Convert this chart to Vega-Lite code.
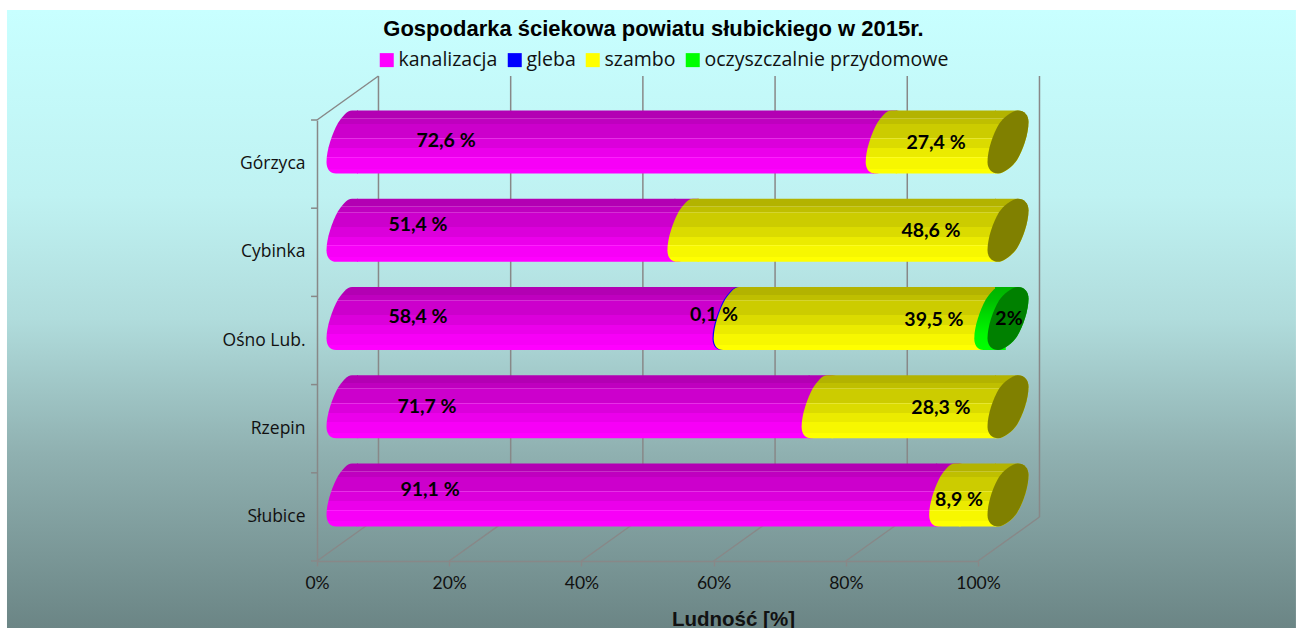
{
"$schema":"https://vega.github.io/schema/vega-lite/v6.json",
"width":661,"height":441,
"autosize":{"type":"none"},
"padding":{"left":317,"top":120,"right":318,"bottom":67},
"background":"white",
"config":{"view":{"stroke":null},"font":"Lato"},
"title":{"text":"Gospodarka ściekowa powiatu słubickiego w 2015r.","font":"Liberation Sans","fontSize":22,"fontWeight":"bold","color":"#000000","anchor":"middle","offset":-31,"dx":6},
"datasets":{
"segs":[
{"gmina":"Górzyca","seg":"kanalizacja","start":0,"end":81.5},
{"gmina":"Górzyca","seg":"szambo","start":81.5,"end":100},
{"gmina":"Cybinka","seg":"kanalizacja","start":0,"end":51.5},
{"gmina":"Cybinka","seg":"szambo","start":51.5,"end":100},
{"gmina":"Ośno Lub.","seg":"kanalizacja","start":0,"end":58.4},
{"gmina":"Ośno Lub.","seg":"gleba","start":58.4,"end":58.5},
{"gmina":"Ośno Lub.","seg":"szambo","start":58.5,"end":98},
{"gmina":"Ośno Lub.","seg":"oczyszczalnie przydomowe","start":98,"end":100},
{"gmina":"Rzepin","seg":"kanalizacja","start":0,"end":71.8},
{"gmina":"Rzepin","seg":"szambo","start":71.8,"end":100},
{"gmina":"Słubice","seg":"kanalizacja","start":0,"end":91.1},
{"gmina":"Słubice","seg":"szambo","start":91.1,"end":100}
],
"frame":[
{"x":9.3,"x2":9.3,"h":44,"h2":485},{"x":29.3,"x2":29.3,"h":44,"h2":485},{"x":49.3,"x2":49.3,"h":44,"h2":485},{"x":69.3,"x2":69.3,"h":44,"h2":485},{"x":89.3,"x2":89.3,"h":44,"h2":485},{"x":109.3,"x2":109.3,"h":44,"h2":485},
{"x":0,"x2":9.3,"h":0,"h2":44},{"x":20,"x2":29.3,"h":0,"h2":44},{"x":40,"x2":49.3,"h":0,"h2":44},{"x":60,"x2":69.3,"h":0,"h2":44},{"x":80,"x2":89.3,"h":0,"h2":44},{"x":100,"x2":109.3,"h":0,"h2":44},
{"x":0,"x2":9.3,"h":441,"h2":485},
{"x":-0.9,"x2":0,"h":0,"h2":0},{"x":-0.9,"x2":0,"h":88.2,"h2":88.2},{"x":-0.9,"x2":0,"h":176.4,"h2":176.4},{"x":-0.9,"x2":0,"h":264.6,"h2":264.6},{"x":-0.9,"x2":0,"h":352.8,"h2":352.8},{"x":-0.9,"x2":0,"h":441,"h2":441}
],
"labels":[
{"t":"72,6 %","x":19.52,"h":420},{"t":"27,4 %","x":93.65,"h":418},
{"t":"51,4 %","x":15.28,"h":336},{"t":"48,6 %","x":92.89,"h":330},
{"t":"58,4 %","x":15.28,"h":244},{"t":"0,1 %","x":60.06,"h":246},{"t":"39,5 %","x":93.34,"h":241},{"t":"2%","x":104.69,"h":242},
{"t":"71,7 %","x":16.64,"h":154},{"t":"28,3 %","x":94.4,"h":153},
{"t":"91,1 %","x":17.1,"h":71},{"t":"8,9 %","x":97.13,"h":61}
],
"bg":[{"x":-46.9,"x2":148.1,"h":-67,"h2":551}]
},
"resolve":{"scale":{"y":"independent"}},
"layer":[
{"layer":[
{"data":{"name":"bg"},
 "mark":{"type":"rect","fill":{"gradient":"linear","x1":0,"y1":0,"x2":0,"y2":1,"stops":[{"offset":0,"color":"#c8ffff"},{"offset":0.3,"color":"#bff2f2"},{"offset":0.5,"color":"#b0dcdc"},{"offset":0.72,"color":"#8fb0b0"},{"offset":1,"color":"#6b8585"}]}},
 "encoding":{
  "x":{"field":"x","type":"quantitative","scale":{"domain":[0,100],"nice":false,"zero":false},
   "axis":{"values":[0,20,40,60,80,100],"labelExpr":"datum.value+'%'","grid":false,"zindex":1,"domainColor":"#888888","domainWidth":1.5,"tickColor":"#888888","tickWidth":1.5,"tickSize":5,"labelFont":"Lato","labelFontSize":17.5,"labelColor":"#111111","labelPadding":8,"labelFlush":false,
    "title":"Ludność [%]","titleFont":"Liberation Sans","titleFontSize":20.5,"titleFontWeight":"bold","titleColor":"#111111","titleX":416,"titleY":64,"titleBaseline":"alphabetic"}},
  "x2":{"field":"x2"},
  "y":{"field":"h","type":"quantitative","scale":{"domain":[0,441],"nice":false,"zero":false},"axis":null},
  "y2":{"field":"h2"}}},
{"data":{"name":"frame"},
 "mark":{"type":"rule","color":"#888888","strokeWidth":1.5},
 "encoding":{
  "x":{"field":"x","type":"quantitative"},"x2":{"field":"x2"},
  "y":{"field":"h","type":"quantitative","scale":{"domain":[0,441],"nice":false,"zero":false},"axis":null},
  "y2":{"field":"h2"}}}
]},
{"data":{"name":"segs"},
 "encoding":{
  "y":{"field":"gmina","type":"nominal","sort":["Górzyca","Cybinka","Ośno Lub.","Rzepin","Słubice"],
   "scale":{"domain":["Górzyca","Cybinka","Ośno Lub.","Rzepin","Słubice"],"paddingInner":0.2857,"paddingOuter":0.14285},
   "axis":{"title":null,"ticks":false,"zindex":1,"domainColor":"#888888","domainWidth":1.5,"labelFont":"Open Sans","labelFontSize":17.5,"labelColor":"#111111","labelPadding":12}}},
 "layer":[
 {"mark":{"type":"rect"},
  "encoding":{"x":{"field":"start","type":"quantitative"},"x2":{"field":"start"},
   "color":{"field":"seg","type":"nominal","scale":{"domain":["kanalizacja","gleba","szambo","oczyszczalnie przydomowe"],"range":["#ff00ff","#0000ff","#ffff00","#00ff00"]},
    "legend":{"title":null,"orient":"none","legendX":60,"legendY":-70,"direction":"horizontal","columns":4,"symbolType":"square","symbolSize":196,"symbolStrokeWidth":0,"symbolOpacity":1,"labelFont":"Open Sans","labelFontSize":19.5,"labelColor":"#111111","labelOffset":2,"labelLimit":400,"columnPadding":7,"gridAlign":"each"}}}},
 {"transform":[{"filter":"datum.seg=='kanalizacja'"}],"mark":{"type":"point","filled":true,"opacity":1,"strokeWidth":0,"size":4,"xOffset":30,"yOffset":-22,"shape":"M5,-31.5C0,-31.5 -5,-25 -9,-19C-15,-8 -20.5,8 -20.5,20C-20.5,27 -17,31.5 -11,31.5L11,31.5L11,-31.5Z",
   "fill":{"gradient":"linear","x1":0,"y1":0,"x2":0,"y2":1,"stops":[{"offset":0,"color":"#b300b3"},{"offset":0.12,"color":"#b300b3"},{"offset":0.12,"color":"#c730c7"},{"offset":0.13,"color":"#c730c7"},{"offset":0.13,"color":"#bf00bf"},{"offset":0.21,"color":"#bf00bf"},{"offset":0.21,"color":"#d430d4"},{"offset":0.22,"color":"#d430d4"},{"offset":0.22,"color":"#cc00cc"},{"offset":0.44,"color":"#cc00cc"},{"offset":0.44,"color":"#e630e6"},{"offset":0.45,"color":"#e630e6"},{"offset":0.45,"color":"#db00db"},{"offset":0.6,"color":"#db00db"},{"offset":0.6,"color":"#eb00eb"},{"offset":0.74,"color":"#eb00eb"},{"offset":0.74,"color":"#fc20fc"},{"offset":0.75,"color":"#fc20fc"},{"offset":0.75,"color":"#f700f7"},{"offset":0.92,"color":"#f700f7"},{"offset":0.92,"color":"#ff00ff"},{"offset":1,"color":"#ff00ff"}]}},
  "encoding":{"x":{"field":"start","type":"quantitative"}}},
 {"transform":[{"filter":"datum.seg=='kanalizacja'"}],"mark":{"type":"rect","xOffset":40,"x2Offset":18,"yOffset":-22,"y2Offset":-22,
   "fill":{"gradient":"linear","x1":0,"y1":0,"x2":0,"y2":1,"stops":[{"offset":0,"color":"#b300b3"},{"offset":0.12,"color":"#b300b3"},{"offset":0.12,"color":"#c730c7"},{"offset":0.13,"color":"#c730c7"},{"offset":0.13,"color":"#bf00bf"},{"offset":0.21,"color":"#bf00bf"},{"offset":0.21,"color":"#d430d4"},{"offset":0.22,"color":"#d430d4"},{"offset":0.22,"color":"#cc00cc"},{"offset":0.44,"color":"#cc00cc"},{"offset":0.44,"color":"#e630e6"},{"offset":0.45,"color":"#e630e6"},{"offset":0.45,"color":"#db00db"},{"offset":0.6,"color":"#db00db"},{"offset":0.6,"color":"#eb00eb"},{"offset":0.74,"color":"#eb00eb"},{"offset":0.74,"color":"#fc20fc"},{"offset":0.75,"color":"#fc20fc"},{"offset":0.75,"color":"#f700f7"},{"offset":0.92,"color":"#f700f7"},{"offset":0.92,"color":"#ff00ff"},{"offset":1,"color":"#ff00ff"}]}},
  "encoding":{"x":{"field":"start","type":"quantitative"},"x2":{"field":"end"}}},
 {"transform":[{"filter":"datum.seg=='kanalizacja'"}],"mark":{"type":"point","filled":true,"opacity":1,"strokeWidth":0,"size":4,"xOffset":30,"yOffset":-22,"shape":"M-13,-31.5L10,-31.5C16,-31.5 20.5,-27 20.5,-20C20.5,-8 15,8 9,18C5,24 -4,31.5 -10,31.5L-13,31.5Z",
   "fill":{"gradient":"linear","x1":0,"y1":0,"x2":0,"y2":1,"stops":[{"offset":0,"color":"#b300b3"},{"offset":0.12,"color":"#b300b3"},{"offset":0.12,"color":"#c730c7"},{"offset":0.13,"color":"#c730c7"},{"offset":0.13,"color":"#bf00bf"},{"offset":0.21,"color":"#bf00bf"},{"offset":0.21,"color":"#d430d4"},{"offset":0.22,"color":"#d430d4"},{"offset":0.22,"color":"#cc00cc"},{"offset":0.44,"color":"#cc00cc"},{"offset":0.44,"color":"#e630e6"},{"offset":0.45,"color":"#e630e6"},{"offset":0.45,"color":"#db00db"},{"offset":0.6,"color":"#db00db"},{"offset":0.6,"color":"#eb00eb"},{"offset":0.74,"color":"#eb00eb"},{"offset":0.74,"color":"#fc20fc"},{"offset":0.75,"color":"#fc20fc"},{"offset":0.75,"color":"#f700f7"},{"offset":0.92,"color":"#f700f7"},{"offset":0.92,"color":"#ff00ff"},{"offset":1,"color":"#ff00ff"}]}},
  "encoding":{"x":{"field":"end","type":"quantitative"}}},
 {"transform":[{"filter":"datum.seg=='gleba'"}],"mark":{"type":"point","filled":true,"opacity":1,"strokeWidth":0,"size":4,"xOffset":30,"yOffset":-22,"fill":"#0000ff","shape":"M5,-31.5C0,-31.5 -5,-25 -9,-19C-15,-8 -20.5,8 -20.5,20C-20.5,27 -17,31.5 -11,31.5L11,31.5L11,-31.5Z"},
  "encoding":{"x":{"field":"start","type":"quantitative"}}},
 {"transform":[{"filter":"datum.seg=='szambo'"}],"mark":{"type":"point","filled":true,"opacity":1,"strokeWidth":0,"size":4,"xOffset":30.5,"yOffset":-22,"shape":"M5,-31.5C0,-31.5 -5,-25 -9,-19C-15,-8 -20.5,8 -20.5,20C-20.5,27 -17,31.5 -11,31.5L11,31.5L11,-31.5Z",
   "fill":{"gradient":"linear","x1":0,"y1":0,"x2":0,"y2":1,"stops":[{"offset":0,"color":"#b3b300"},{"offset":0.12,"color":"#b3b300"},{"offset":0.12,"color":"#c7c730"},{"offset":0.13,"color":"#c7c730"},{"offset":0.13,"color":"#bfbf00"},{"offset":0.21,"color":"#bfbf00"},{"offset":0.21,"color":"#d4d430"},{"offset":0.22,"color":"#d4d430"},{"offset":0.22,"color":"#cccc00"},{"offset":0.44,"color":"#cccc00"},{"offset":0.44,"color":"#e6e630"},{"offset":0.45,"color":"#e6e630"},{"offset":0.45,"color":"#dbdb00"},{"offset":0.6,"color":"#dbdb00"},{"offset":0.6,"color":"#ebeb00"},{"offset":0.74,"color":"#ebeb00"},{"offset":0.74,"color":"#fcfc20"},{"offset":0.75,"color":"#fcfc20"},{"offset":0.75,"color":"#f7f700"},{"offset":0.92,"color":"#f7f700"},{"offset":0.92,"color":"#ffff00"},{"offset":1,"color":"#ffff00"}]}},
  "encoding":{"x":{"field":"start","type":"quantitative"}}},
 {"transform":[{"filter":"datum.seg=='szambo'"}],"mark":{"type":"rect","xOffset":40,"x2Offset":18,"yOffset":-22,"y2Offset":-22,
   "fill":{"gradient":"linear","x1":0,"y1":0,"x2":0,"y2":1,"stops":[{"offset":0,"color":"#b3b300"},{"offset":0.12,"color":"#b3b300"},{"offset":0.12,"color":"#c7c730"},{"offset":0.13,"color":"#c7c730"},{"offset":0.13,"color":"#bfbf00"},{"offset":0.21,"color":"#bfbf00"},{"offset":0.21,"color":"#d4d430"},{"offset":0.22,"color":"#d4d430"},{"offset":0.22,"color":"#cccc00"},{"offset":0.44,"color":"#cccc00"},{"offset":0.44,"color":"#e6e630"},{"offset":0.45,"color":"#e6e630"},{"offset":0.45,"color":"#dbdb00"},{"offset":0.6,"color":"#dbdb00"},{"offset":0.6,"color":"#ebeb00"},{"offset":0.74,"color":"#ebeb00"},{"offset":0.74,"color":"#fcfc20"},{"offset":0.75,"color":"#fcfc20"},{"offset":0.75,"color":"#f7f700"},{"offset":0.92,"color":"#f7f700"},{"offset":0.92,"color":"#ffff00"},{"offset":1,"color":"#ffff00"}]}},
  "encoding":{"x":{"field":"start","type":"quantitative"},"x2":{"field":"end"}}},
 {"transform":[{"filter":"datum.seg=='szambo'"}],"mark":{"type":"point","filled":true,"opacity":1,"strokeWidth":0,"size":4,"xOffset":30,"yOffset":-22,"shape":"M-13,-31.5L10,-31.5C16,-31.5 20.5,-27 20.5,-20C20.5,-8 15,8 9,18C5,24 -4,31.5 -10,31.5L-13,31.5Z",
   "fill":{"gradient":"linear","x1":0,"y1":0,"x2":0,"y2":1,"stops":[{"offset":0,"color":"#b3b300"},{"offset":0.12,"color":"#b3b300"},{"offset":0.12,"color":"#c7c730"},{"offset":0.13,"color":"#c7c730"},{"offset":0.13,"color":"#bfbf00"},{"offset":0.21,"color":"#bfbf00"},{"offset":0.21,"color":"#d4d430"},{"offset":0.22,"color":"#d4d430"},{"offset":0.22,"color":"#cccc00"},{"offset":0.44,"color":"#cccc00"},{"offset":0.44,"color":"#e6e630"},{"offset":0.45,"color":"#e6e630"},{"offset":0.45,"color":"#dbdb00"},{"offset":0.6,"color":"#dbdb00"},{"offset":0.6,"color":"#ebeb00"},{"offset":0.74,"color":"#ebeb00"},{"offset":0.74,"color":"#fcfc20"},{"offset":0.75,"color":"#fcfc20"},{"offset":0.75,"color":"#f7f700"},{"offset":0.92,"color":"#f7f700"},{"offset":0.92,"color":"#ffff00"},{"offset":1,"color":"#ffff00"}]}},
  "encoding":{"x":{"field":"end","type":"quantitative"}}},
 {"transform":[{"filter":"datum.seg=='oczyszczalnie przydomowe'"}],"mark":{"type":"point","filled":true,"opacity":1,"strokeWidth":0,"size":4,"xOffset":30,"yOffset":-22,"shape":"M5,-31.5C0,-31.5 -5,-25 -9,-19C-15,-8 -20.5,8 -20.5,20C-20.5,27 -17,31.5 -11,31.5L11,31.5L11,-31.5Z",
   "fill":{"gradient":"linear","x1":0,"y1":0,"x2":0,"y2":1,"stops":[{"offset":0,"color":"#00b300"},{"offset":0.22,"color":"#00bf00"},{"offset":0.45,"color":"#00db00"},{"offset":0.75,"color":"#00f700"},{"offset":1,"color":"#00ff00"}]}},
  "encoding":{"x":{"field":"start","type":"quantitative"}}},
 {"transform":[{"filter":"datum.seg=='oczyszczalnie przydomowe'"}],"mark":{"type":"point","filled":true,"opacity":1,"strokeWidth":0,"size":4,"xOffset":30,"yOffset":-22,"shape":"M-13,-31.5L10,-31.5C16,-31.5 20.5,-27 20.5,-20C20.5,-8 15,8 9,18C5,24 -4,31.5 -10,31.5L-13,31.5Z",
   "fill":{"gradient":"linear","x1":0,"y1":0,"x2":0,"y2":1,"stops":[{"offset":0,"color":"#00b300"},{"offset":0.22,"color":"#00bf00"},{"offset":0.45,"color":"#00db00"},{"offset":0.75,"color":"#00f700"},{"offset":1,"color":"#00ff00"}]}},
  "encoding":{"x":{"field":"end","type":"quantitative"}}},
 {"transform":[{"filter":"datum.end==100"}],"mark":{"type":"point","filled":true,"opacity":1,"strokeWidth":0,"size":4,"xOffset":30,"yOffset":-22,"shape":"M10,-31.5C16,-31.5 20.5,-27 20.5,-20C20.5,-8 15,8 9,18C5,24 -4,31.5 -10,31.5C-16,31.5 -20.5,27 -20.5,20C-20.5,8 -15,-8 -9,-18C-5,-24 4,-31.5 10,-31.5Z"},
  "encoding":{"x":{"field":"end","type":"quantitative"},
   "fill":{"field":"seg","type":"nominal","scale":{"domain":["szambo","oczyszczalnie przydomowe"],"range":["#808000","#008000"]},"legend":null}}}
 ]},
{"data":{"name":"labels"},
 "mark":{"type":"text","font":"Lato","fontWeight":"bold","fontSize":19.5,"color":"#000000","align":"center","baseline":"middle"},
 "encoding":{
  "x":{"field":"x","type":"quantitative"},
  "y":{"field":"h","type":"quantitative","scale":{"domain":[0,441],"nice":false,"zero":false},"axis":null},
  "text":{"field":"t"}}}
]
}
